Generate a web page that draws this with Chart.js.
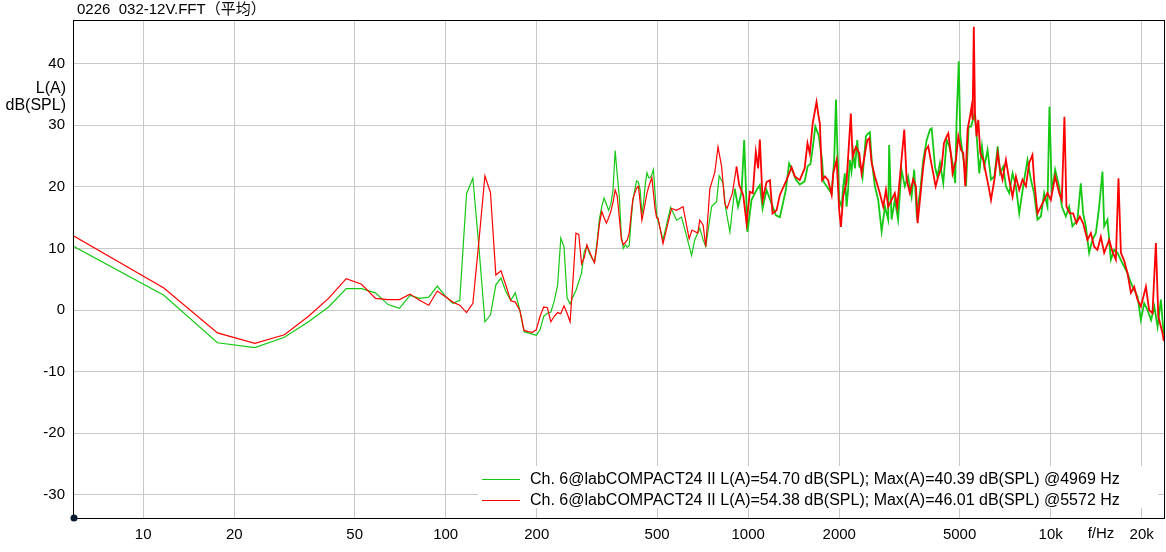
<!DOCTYPE html>
<html>
<head>
<meta charset="utf-8">
<script src="https://cdn.jsdelivr.net/npm/chart.js@4.4.1/dist/chart.umd.min.js"></script>
<style>
  html, body { margin: 0; padding: 0; background: #fff; }
  #wrap { width: 1166px; height: 552px; }
</style>
</head>
<body>
<div id="wrap"><canvas id="fftChart" width="1166" height="552"></canvas></div>
<script>
// FFT averaged spectrum, two channels, A-weighted
const title = '0226  032-12V.FFT（平均）'
const labelGreen = 'Ch. 6@labCOMPACT24 II L(A)=54.70 dB(SPL); Max(A)=40.39 dB(SPL) @4969 Hz'
const labelRed = 'Ch. 6@labCOMPACT24 II L(A)=54.38 dB(SPL); Max(A)=46.01 dB(SPL) @5572 Hz'

const xTicks = [10, 20, 50, 100, 200, 500, 1000, 2000, 5000, 10000, 20000]
const yTicks = [-30, -20, -10, 0, 10, 20, 30, 40]

// low part: FFT bins (both channels share them)
const lowFreq = [5.86, 11.7, 17.6, 23.4, 29.3, 35.2, 41.0, 46.9, 52.7, 58.6, 64.5, 70.3, 76.2, 82.0, 87.9, 93.8, 99.6,
  105.5, 111.3, 117.2, 123.0, 128.9, 134.8, 140.6, 146.5, 152.3, 158.2, 164.1, 169.9, 175.8, 181.6, 187.5, 193.4, 199.2,
  205.1, 210.9, 216.8, 222.7, 228.5, 234.4, 240.2, 246.1, 252.0, 257.8, 263.7, 269.5, 275.4, 281.3, 287.1, 293.0, 298.8,
  304.7, 310.5, 316.4, 322.3, 328.1, 334.0, 339.8, 345.7, 351.6, 357.4, 363.3, 369.1, 375.0, 380.9, 386.7, 392.6, 398.4,
  404.3, 410.2, 416.0, 421.9, 427.7, 433.6, 439.5, 445.3, 451.2, 457.0, 462.9, 468.8, 474.6, 480.5, 486.3, 492.2, 498.0, 503.9]
const lowGreen = [10.4, 2.4, -5.3, -6.1, -4.4, -1.9, 0.5, 3.5, 3.5, 2.8, 0.9, 0.3, 2.4, 1.9, 2.1, 3.9, 2.3,
  1.1, 1.6, 18.9, 21.4, 10, -1.9, -0.8, 4.1, 5.2, 3.0, 1.6, 2.8, 0, -3.5, -3.7, -3.9, -4.1,
  -3.2, -1.0, -0.5, -0.3, 1.5, 4, 11.7, 10.3, 2, 1.0, 2.2, 3.2, 4.6, 6.0, 9.5, 10.4, 9.2,
  8.4, 7.8, 11, 14.8, 16.8, 18.2, 17.2, 16.2, 17.2, 19.5, 25.9, 22, 18.4, 12, 10, 10.6, 10.2,
  10.5, 14.5, 17.9, 19.5, 21, 20.8, 19.5, 15.5, 17.5, 20.5, 22.3, 21.5, 21.5, 22, 22.8, 19, 15.5, 14.5]
const lowRed = [12.1, 3.6, -3.7, -5.4, -4.0, -1.0, 1.9, 5.1, 4.2, 1.9, 1.7, 1.7, 2.6, 1.6, 0.8, 3.1, 2.2,
  1.3, 0.8, -0.4, 1.1, 11.4, 21.8, 19.1, 5.7, 6.4, 4.0, 1.5, 1.3, 0, -3.3, -3.5, -3.6, -3.2,
  -1.0, 0.5, 0.4, -1.9, -1.0, -0.4, -0.6, 0.7, -0.5, -1.9, 5, 12.5, 12.3, 7.5, 8.5, 10.6, 9.5,
  8.5, 7.7, 10.5, 14, 16, 15, 14.1, 15, 16, 17.5, 19.5, 18.5, 15, 11.5, 10.6, 11, 11.4,
  12.5, 15.5, 18.1, 19, 19.8, 20.1, 17.5, 14.6, 16, 17.5, 19, 20, 20.8, 21.5, 19, 16.5, 15, 14.9]

// upper part, green channel
const hiFreqGreen = [523, 554, 580, 602, 622, 650, 666, 692, 710, 724, 757, 786, 802, 826, 843, 870, 903, 926, 951, 970,
  995, 1026, 1066, 1093, 1116, 1150, 1235, 1273, 1332, 1366, 1402, 1438, 1481, 1537, 1574, 1606, 1634, 1667, 1710, 1755,
  1773, 1888, 1925, 1951, 1970, 2000, 2037, 2062, 2087, 2115, 2139, 2169, 2196, 2225, 2254, 2294, 2329, 2371, 2390, 2450,
  2494, 2526, 2560, 2624, 2691, 2762, 2833, 2903, 2925, 2979, 3054, 3131, 3213, 3295, 3379, 3470, 3539, 3606, 3698, 3792,
  3892, 3991, 4043, 4092, 4145, 4219, 4307, 4416, 4532, 4623, 4676, 4761, 4836, 4887, 4969, 5027, 5115, 5211, 5251, 5355,
  5454, 5594, 5666, 5808, 5928, 6033, 6187, 6351, 6516, 6682, 6806, 6970, 7114, 7292, 7484, 7677, 7873, 8174, 8386, 8601,
  8815, 9045, 9282, 9518, 9760, 9909, 10092, 10348, 10668, 10890, 11226, 11512, 11804, 12262, 12582, 12805, 13071, 13404, 13745, 14110,
  14468, 14836, 15030, 15410, 15815, 16218, 16631, 17282, 17952, 18421, 18889, 19370, 19878, 20385, 20918, 21478, 22020, 22568, 23146, 23428,
  23650]
const hiGreen = [11.4, 16.7, 14.6, 15.1, 12.5, 8.9, 11.4, 13.3, 11.4, 10.3, 16.8, 17.6, 21.8, 20.6, 16.5, 12.7, 19.7, 16.8, 19.2, 27.6,
  12.7, 17.9, 19.5, 20.3, 16.5, 19.5, 15.4, 15.1, 19.5, 23.8, 22.6, 21.2, 20.4, 20.9, 23.4, 23.7, 26.2, 29.8, 28.4, 24.4,
  20.9, 18.9, 24.4, 34.2, 26.8, 17.9, 16.8, 20.1, 22.2, 16.8, 19.5, 24.4, 22.5, 25.5, 23, 27.6, 23.3, 23, 21.7, 28.2,
  28.7, 28.9, 24.4, 20.1, 17.9, 12.8, 16.8, 14.7, 26.8, 14.7, 17.9, 14.7, 22.8, 20.1, 21.7, 18.4, 22.8, 15.7, 19, 24.4,
  27.6, 29.3, 29.5, 26.6, 23.3, 21.7, 23.9, 20.6, 27.6, 26.6, 25.5, 23.3, 20.6, 30.9, 40.4, 28.2, 25.5, 22.8, 20.1, 29.8,
  29.8, 31.7, 29.8, 22.2, 26.6, 23.3, 26, 21.2, 21.7, 26.6, 22.2, 23.3, 20.1, 19, 22.2, 20.1, 15.7, 21.2, 24.4, 21.2,
  19, 14.7, 15.2, 19, 16.8, 33, 19, 22.8, 20.1, 16.8, 15.2, 16.8, 13.6, 14.7, 20.6, 15.7, 13.6, 9.3, 11.4, 12.5,
  16.8, 22.5, 13.6, 14.7, 8.2, 9.8, 9.3, 7.6, 6, 4.4, 3.3, 2.2, -1.6, 1.1, 0, -1.6, 0.6, -2.7, 1.7, -1.6,
  -4]

// upper part, red channel
const hiFreqRed = [523, 558, 580, 609, 638, 652, 681, 692, 710, 724, 747, 776, 795, 817, 837, 852, 887, 915, 934, 963,
  988, 1013, 1036, 1060, 1079, 1093, 1116, 1150, 1180, 1204, 1241, 1273, 1339, 1392, 1427, 1481, 1537, 1571, 1599, 1634,
  1683, 1704, 1726, 1755, 1794, 1838, 1888, 1911, 1961, 2000, 2026, 2062, 2115, 2185, 2214, 2271, 2329, 2371, 2434, 2476,
  2513, 2560, 2624, 2723, 2796, 2854, 2903, 2979, 3054, 3110, 3213, 3281, 3341, 3425, 3512, 3586, 3632, 3698, 3792, 3862,
  3939, 4012, 4092, 4166, 4251, 4362, 4439, 4532, 4588, 4676, 4740, 4864, 4950, 5054, 5143, 5221, 5314, 5410, 5478, 5520,
  5572, 5622, 5690, 5765, 5853, 5987, 6109, 6234, 6351, 6516, 6682, 6806, 6932, 7114, 7292, 7484, 7677, 7873, 8071, 8283,
  8494, 8706, 8815, 9045, 9282, 9518, 9760, 10015, 10348, 10668, 10890, 11107, 11277, 11573, 11866, 12170, 12488, 12805, 13232, 13580,
  13927, 14282, 14653, 15030, 15613, 16008, 16428, 16760, 17071, 17507, 17952, 18421, 18889, 19370, 19878, 20650, 21170, 21709, 22279, 22691,
  23146, 23428, 23650]
const hiRed = [10.8, 16.5, 16.2, 16.8, 11.6, 13, 12.5, 14.6, 13.8, 10.3, 19.7, 22.4, 26.5, 23.3, 17.3, 16.5, 19, 23.3, 20.3, 18.7,
  14.1, 19.2, 19, 25.7, 23, 27.7, 17.9, 20.8, 21.1, 15.7, 16.2, 18.7, 21.1, 23.2, 21.7, 21.1, 23, 27.1, 25.4, 30.3,
  33.8, 31.9, 30.3, 21.1, 21.7, 21.1, 18.7, 22.2, 24.4, 16.2, 13.5, 18.5, 20.8, 31.9, 24.9, 26.5, 25.5, 22.2, 25.5, 27.6,
  27.9, 23.9, 21.7, 19, 16.8, 19.5, 16.8, 17.9, 19, 16.8, 24.4, 29.3, 21.2, 19, 21.2, 20.1, 14.1, 17.9, 23.3, 26,
  26.6, 24.4, 22.2, 20.1, 21.7, 23.3, 27.1, 28.2, 28.7, 25.5, 22.2, 24.4, 28.2, 26, 25.5, 20.1, 29.3, 31.4, 33, 30.9,
  46.0, 32, 28.2, 30.9, 25.5, 24.4, 22.2, 20.1, 17.9, 21.2, 25.5, 22.8, 21.2, 24.4, 21.2, 18.4, 21.7, 19.5, 21.2, 20.1,
  23.9, 25.2, 21.2, 15.7, 16.8, 17.9, 19, 17.9, 21.7, 19, 17.9, 31.4, 16.8, 15.7, 15.7, 14.1, 15.2, 14.1, 11.4, 12.5,
  10.3, 9.8, 11.9, 9.3, 11.4, 9.5, 8.2, 21.4, 9.3, 8, 6, 2.8, 3.8, 1.7, 0.6, 3.8, 0, -0.5, 10.9, -1,
  -2.7, -3.7, -5]

function toPoints(fa, da) {
  var pts = []
  for (var i = 0; i < fa.length; i++) pts.push({ x: fa[i], y: da[i] })
  return pts
}

var greenData = toPoints(lowFreq, lowGreen).concat(toPoints(hiFreqGreen, hiGreen))
var redData = toPoints(lowFreq, lowRed).concat(toPoints(hiFreqRed, hiRed))

const GREEN = '#14c814'
const RED = '#ff0000'
const FONT = '"Liberation Sans", Arial, "Noto Sans CJK SC", sans-serif'

// the dense upper band reads heavier in the original
function segWidth(ctx) {
  return ctx.p0.parsed.x > 900 ? 1.8 : 1.2
}

// title, frame, origin dot, axis captions and the in-plot legend
const decor = {
  id: 'decor',
  afterDraw(chart) {
    var c = chart.ctx
    var a = chart.chartArea
    c.save()
    // legend box
    c.fillStyle = '#ffffff'
    c.fillRect(478, 466, 680, 42)
    var items = [[labelGreen, GREEN, 479], [labelRed, RED, 500]]
    c.font = '16px ' + FONT
    c.textBaseline = 'middle'
    c.textAlign = 'left'
    items.forEach(function(it) {
      c.strokeStyle = it[1]
      c.lineWidth = 1
      c.beginPath()
      c.moveTo(482, it[2] + 0.5)
      c.lineTo(520, it[2] + 0.5)
      c.stroke()
      c.fillStyle = '#000'
      c.fillText(it[0], 530, it[2] + 1)
    })
    // frame
    c.strokeStyle = '#000'
    c.lineWidth = 1
    c.strokeRect(Math.round(a.left) + 0.5, Math.round(a.top) + 0.5, Math.round(a.right - a.left), Math.round(a.bottom - a.top))
    // origin dot
    c.fillStyle = '#0b1a2e'
    c.beginPath()
    c.arc(a.left + 1, a.bottom, 3.5, 0, Math.PI * 2)
    c.fill()
    // texts
    c.fillStyle = '#000'
    c.font = '15px ' + FONT
    c.textAlign = 'left'
    c.fillText(title, 77, 10)
    c.font = '16px ' + FONT
    c.textAlign = 'right'
    c.fillText('L(A)', 66, 89)
    c.fillText('dB(SPL)', 66, 106)
    c.font = '15px ' + FONT
    c.textAlign = 'center'
    c.fillText('f/Hz', 1101, 534)
    c.restore()
  }
}

document.addEventListener('DOMContentLoaded', function() {
  var ctx = document.getElementById('fftChart')
  new Chart(ctx, {
    type: 'line',
    data: {
      datasets: [
        {
          label: labelGreen,
          data: greenData,
          borderColor: GREEN,
          borderWidth: 1.2,
          segment: { borderWidth: segWidth },
          pointRadius: 0,
          tension: 0,
          order: 1
        },
        {
          label: labelRed,
          data: redData,
          borderColor: RED,
          borderWidth: 1.2,
          segment: { borderWidth: segWidth },
          pointRadius: 0,
          tension: 0,
          order: 0
        }
      ]
    },
    options: {
      responsive: false,
      animation: false,
      layout: { padding: { top: 20, right: 2, left: 0, bottom: 0 } },
      plugins: {
        legend: { display: false },
        tooltip: { enabled: false }
      },
      scales: {
        x: {
          type: 'logarithmic',
          min: 5.86,
          max: 23700,
          afterBuildTicks: function(scale) {
            scale.ticks = xTicks.map(function(v) { return { value: v } })
          },
          afterFit: function(scale) { scale.height = 34 },
          ticks: {
            autoSkip: false,
            maxRotation: 0,
            padding: 8,
            color: '#000',
            font: { family: FONT, size: 15 },
            callback: function(v) { return v >= 10000 ? (v / 1000) + 'k' : String(v) }
          },
          grid: { color: '#c8c8c8', lineWidth: 1, drawTicks: false },
          border: { color: '#000' }
        },
        y: {
          min: -33.75,
          max: 47.1,
          afterBuildTicks: function(scale) {
            scale.ticks = yTicks.map(function(v) { return { value: v } })
          },
          afterFit: function(scale) { scale.width = 73 },
          ticks: {
            padding: 8,
            color: '#000',
            font: { family: FONT, size: 15 }
          },
          grid: { color: '#c8c8c8', lineWidth: 1, drawTicks: false },
          border: { color: '#000' }
        }
      }
    },
    plugins: [decor]
  })
})
</script>
</body>
</html>
